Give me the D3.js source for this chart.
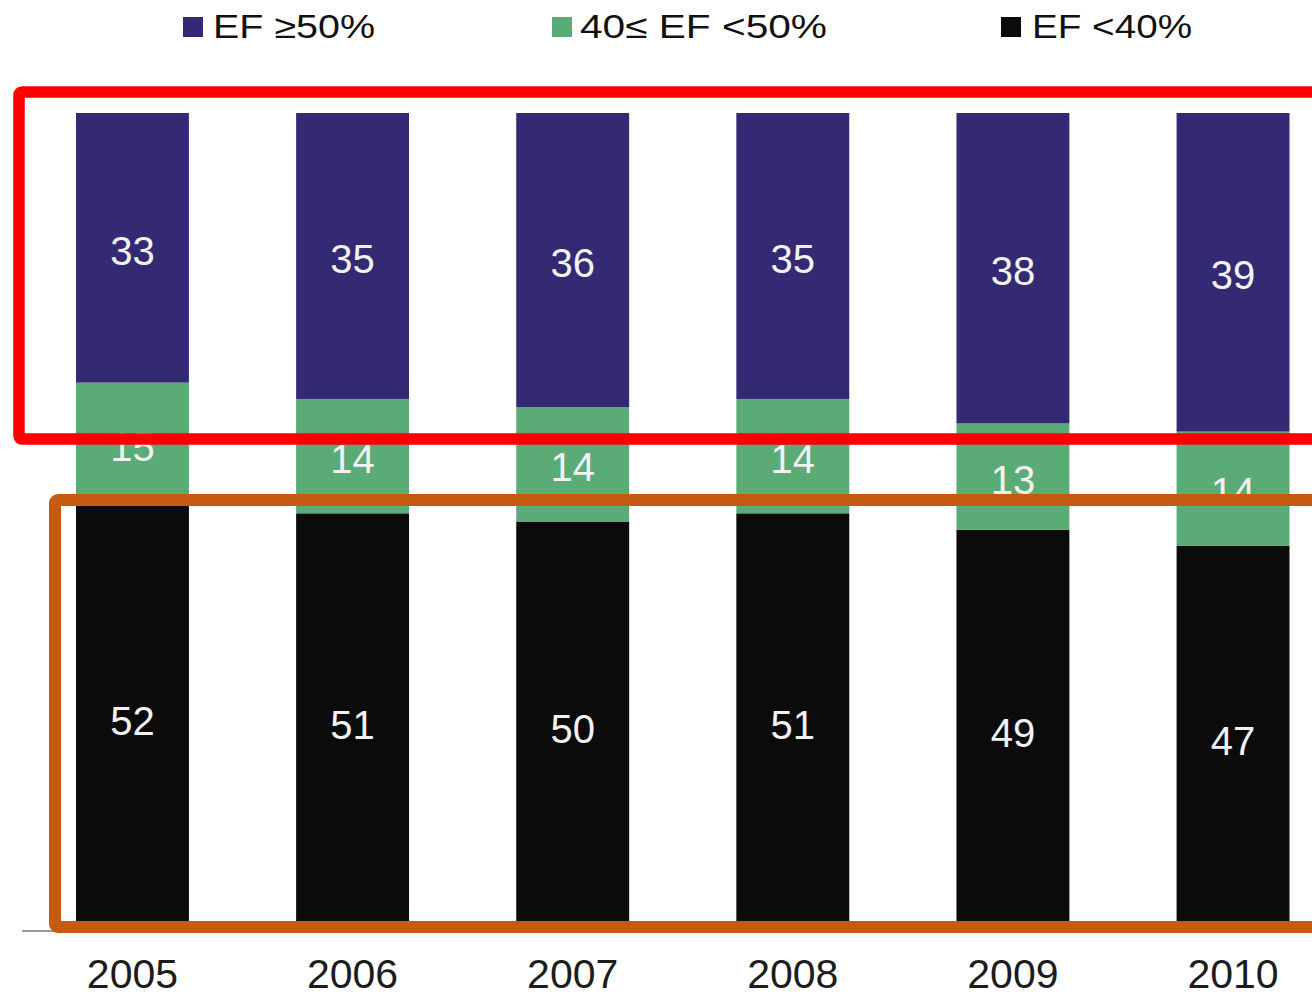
<!DOCTYPE html>
<html>
<head>
<meta charset="utf-8">
<script src="https://cdn.jsdelivr.net/npm/d3@7"></script>
<style>
  html, body { margin: 0; padding: 0; background: #ffffff; }
  svg { display: block; }
</style>
</head>
<body>
<svg id="chart" width="1312" height="998"></svg>
<script>
// Share of patients by ejection fraction group, per year (%)
const years = ["2005", "2006", "2007", "2008", "2009", "2010"];
const efPreserved = [33, 35, 36, 35, 38, 39];   // EF >= 50%
const efMidRange  = [15, 14, 14, 14, 13, 14];   // 40 <= EF < 50%
const efReduced   = [52, 51, 50, 51, 49, 47];   // EF < 40%

const seriesNames = ["EF <40%", "40\u2264 EF <50%", "EF \u226550%"];
const legendLabels = ["EF \u226550%", "40\u2264 EF <50%", "EF <40%"];
const seriesColors = ["#0b0b0b", "#5bab76", "#332a73"];

const rows = years.map((y, i) => ({
  year: y,
  "EF <40%": efReduced[i],
  "40\u2264 EF <50%": efMidRange[i],
  "EF \u226550%": efPreserved[i]
}));

const svg = d3.select("#chart");

const x = d3.scaleBand()
  .domain(years)
  .range([76, 1289.5])
  .paddingInner(0.487)
  .paddingOuter(0);

const y = d3.scaleLinear()
  .domain([0, 100])
  .range([930, 113]);

const color = d3.scaleOrdinal().domain(seriesNames).range(seriesColors);

const stacked = d3.stack().keys(seriesNames)(rows);

// baseline axis
svg.append("line")
  .attr("x1", 22).attr("x2", 1312)
  .attr("y1", 931).attr("y2", 931)
  .attr("stroke", "#9a9a9a")
  .attr("stroke-width", 2);

// stacked bars
const layers = svg.append("g").selectAll("g")
  .data(stacked)
  .join("g")
  .attr("fill", d => color(d.key));

layers.selectAll("rect")
  .data(d => d)
  .join("rect")
  .attr("x", d => x(d.data.year))
  .attr("width", x.bandwidth())
  .attr("y", d => y(d[1]))
  .attr("height", d => y(d[0]) - y(d[1]));

// value labels in the middle of each segment
layers.selectAll("text")
  .data(d => d.map(v => ({ v, key: d.key })))
  .join("text")
  .attr("x", d => x(d.v.data.year) + x.bandwidth() / 2)
  .attr("y", d => (y(d.v[0]) + y(d.v[1])) / 2 + 3)
  .attr("text-anchor", "middle")
  .attr("dominant-baseline", "central")
  .attr("fill", "#f2f2f2")
  .attr("font-family", "Liberation Sans, Arial, sans-serif")
  .attr("font-size", 40)
  .text(d => d.v.data[d.key]);

// year axis labels
const xAxis = d3.axisBottom(x).tickSize(0).tickPadding(0);
const axisG = svg.append("g")
  .attr("transform", "translate(0,959)")
  .call(xAxis);
axisG.select(".domain").remove();
axisG.selectAll("text")
  .attr("fill", "#1c1c1c")
  .attr("font-family", "Liberation Sans, Arial, sans-serif")
  .attr("font-size", 41)
  .attr("dy", "0.71em");

// legend
const legendX = [183, 552, 1001];
const legendW = [162, 247, 160];
const legend = svg.append("g")
  .selectAll("g")
  .data(legendLabels)
  .join("g")
  .attr("transform", (d, i) => `translate(${legendX[i]},0)`);

legend.append("rect")
  .attr("x", 0).attr("y", 17)
  .attr("width", 20).attr("height", 20)
  .attr("fill", (d, i) => [seriesColors[2], seriesColors[1], seriesColors[0]][i]);

legend.append("text")
  .attr("x", (d, i) => i === 2 ? 31 : (i === 1 ? 28 : 30))
  .attr("y", 38)
  .attr("font-family", "Liberation Sans, Arial, sans-serif")
  .attr("font-size", 33)
  .attr("fill", "#111")
  .attr("textLength", (d, i) => legendW[i])
  .attr("lengthAdjust", "spacingAndGlyphs")
  .text(d => d);

// highlight frames
svg.append("rect")
  .attr("x", 19).attr("y", 92)
  .attr("width", 1320).attr("height", 347)
  .attr("rx", 3)
  .attr("fill", "none")
  .attr("stroke", "#ff0000")
  .attr("stroke-width", 11.5);

svg.append("rect")
  .attr("x", 55).attr("y", 500)
  .attr("width", 1300).attr("height", 427)
  .attr("rx", 3)
  .attr("fill", "none")
  .attr("stroke", "#c55a11")
  .attr("stroke-width", 12);
</script>
</body>
</html>
